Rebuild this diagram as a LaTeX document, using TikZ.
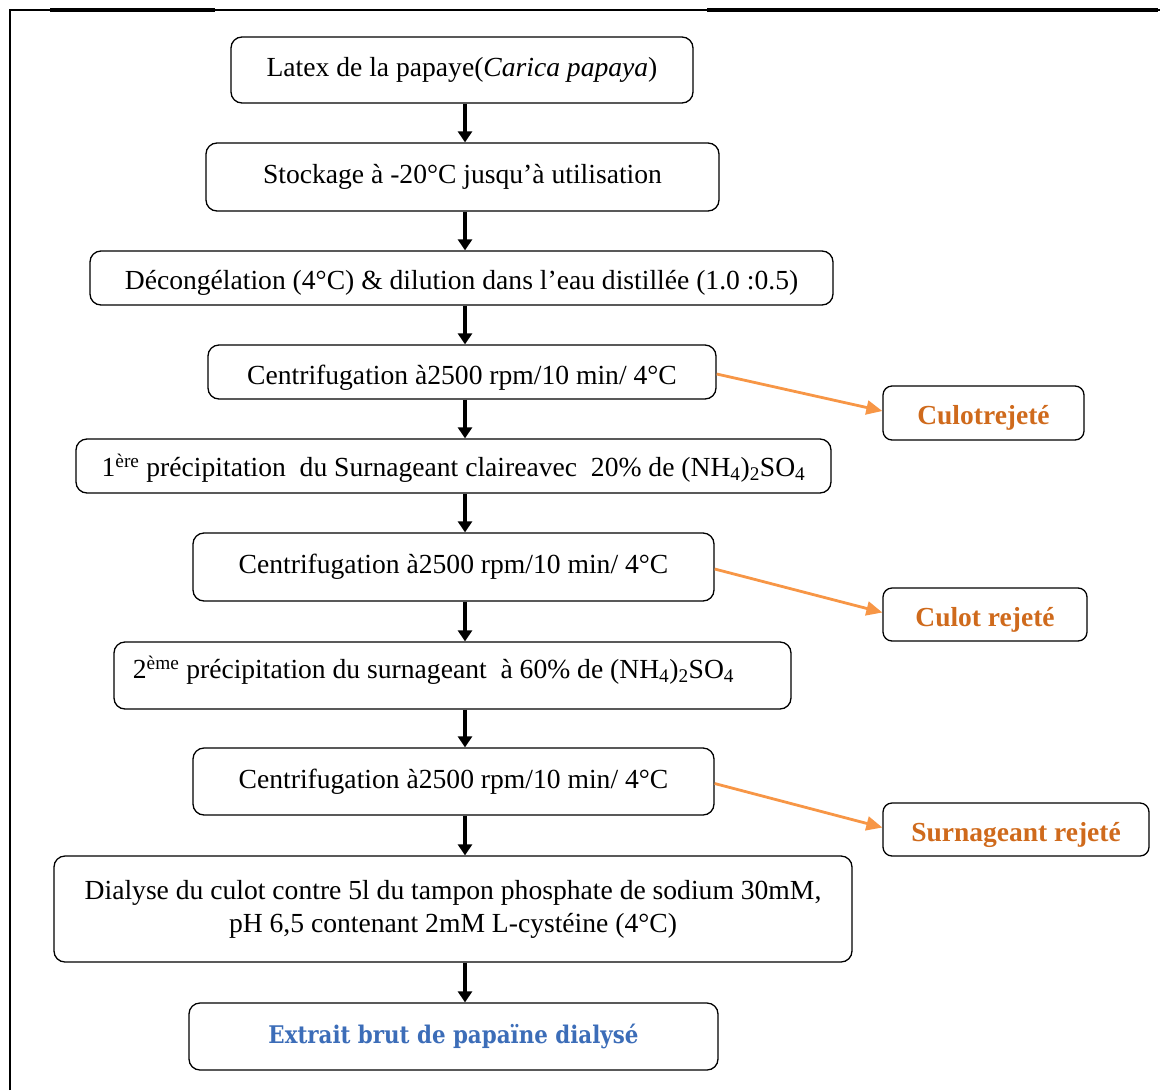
\documentclass[tikz,border=0pt]{standalone}
\usepackage{fontspec}
\setmainfont{Liberation Serif}
\newfontfamily\wideserif[FakeStretch=0.88]{DejaVu Serif}
\usetikzlibrary{arrows.meta}
\definecolor{arrorange}{HTML}{F79646}
\definecolor{rejtext}{HTML}{CF6A1C}
\definecolor{finalblue}{HTML}{3C6DB8}
\begin{document}
\begin{tikzpicture}[x=1pt,y=-1pt,
  stepbox/.style={draw=black,line width=1.3pt,rounded corners=11pt,inner sep=0pt,
    font=\fontsize{27.6}{33}\selectfont,align=center},
  sidebox/.style={draw=black,line width=1.3pt,rounded corners=9pt,inner sep=0pt,
    font=\fontsize{27.5}{30}\selectfont\bfseries,text=rejtext,
    text height=29pt,text depth=6pt},
  downarr/.style={line width=3.6pt,-{Triangle[width=14pt,length=11pt]}},
  sidearr/.style={draw=arrorange,line width=2.8pt,-{Triangle[width=14pt,length=16pt]}}]
\useasboundingbox (0,0) rectangle (1175,1090);

% page frame
\draw[line width=2pt] (10,1090) -- (10,10) -- (1160,10);
\draw[line width=4pt] (50,10) -- (215,10);
\draw[line width=4pt] (707,10) -- (1158,10);

% main sequence of steps
\node[stepbox,minimum width=462pt,minimum height=66pt] (n1) at (462,70)
  {Latex de la papaye(\textit{Carica papaya})};
\node[stepbox,minimum width=513pt,minimum height=68pt] (n2) at (462.5,177)
  {Stockage à -20°C jusqu’à utilisation};
\node[stepbox,minimum width=743pt,minimum height=54pt,text height=29pt,text depth=6pt] (n3) at (461.5,278)
  {Décongélation (4°C) \& dilution dans l’eau distillée (1.0 :0.5)};
\node[stepbox,minimum width=508pt,minimum height=54pt,text height=31pt,text depth=6pt] (n4) at (462,372)
  {Centrifugation à2500 rpm/10 min/ 4°C};
\node[stepbox,minimum width=755pt,minimum height=54pt,text height=27pt,text depth=6pt] (n5) at (453.5,466)
  {1\textsuperscript{ère} précipitation~ du Surnageant claireavec~ 20\% de (NH\textsubscript{4})\textsubscript{2}SO\textsubscript{4}};
\node[stepbox,minimum width=521pt,minimum height=68pt] (n6) at (453.5,567)
  {Centrifugation à2500 rpm/10 min/ 4°C};
\node[stepbox,minimum width=677pt,minimum height=67pt,text height=12pt,text depth=6pt] (n7) at (452.5,675.5)
  {2\textsuperscript{ème} précipitation du surnageant~ à 60\% de (NH\textsubscript{4})\textsubscript{2}SO\textsubscript{4}\hspace*{38pt}};
\node[stepbox,minimum width=521pt,minimum height=67pt] (n8) at (453.5,781.5)
  {Centrifugation à2500 rpm/10 min/ 4°C};
\node[stepbox,minimum width=798pt,minimum height=106pt] (n9) at (453,909)
  {Dialyse du culot contre 5l du tampon phosphate de sodium 30mM,\\
   pH 6,5 contenant 2mM L-cystéine (4°C)};
\node[stepbox,minimum width=529pt,minimum height=67pt,
  font=\wideserif\fontsize{24.3}{28}\selectfont\bfseries,text=finalblue] (n10) at (453.5,1036.5)
  {Extrait brut de papaïne dialysé};

% discarded fractions
\node[sidebox,minimum width=201pt,minimum height=54pt] (r1) at (983.5,413) {Culotrejeté};
\node[sidebox,minimum width=204pt,minimum height=53pt] (r2) at (985,614.5) {Culot rejeté};
\node[sidebox,minimum width=266pt,minimum height=53pt] (r3) at (1016,829.5) {Surnageant rejeté};

% main flow
\coordinate (ax) at (465,0);
\foreach \a/\b in {n1/n2,n2/n3,n3/n4,n4/n5,n5/n6,n6/n7,n7/n8,n8/n9,n9/n10}
  \draw[downarr] (\a.south -| ax) -- (\b.north -| ax);

% side outputs
\draw[sidearr] ([yshift=-2pt]n4.east) -- ([yshift=2pt]r1.west);
\draw[sidearr] ([yshift=-2pt]n6.east) -- ([yshift=2pt]r2.west);
\draw[sidearr] ([yshift=-2pt]n8.east) -- ([yshift=2pt]r3.west);
\end{tikzpicture}
\end{document}
